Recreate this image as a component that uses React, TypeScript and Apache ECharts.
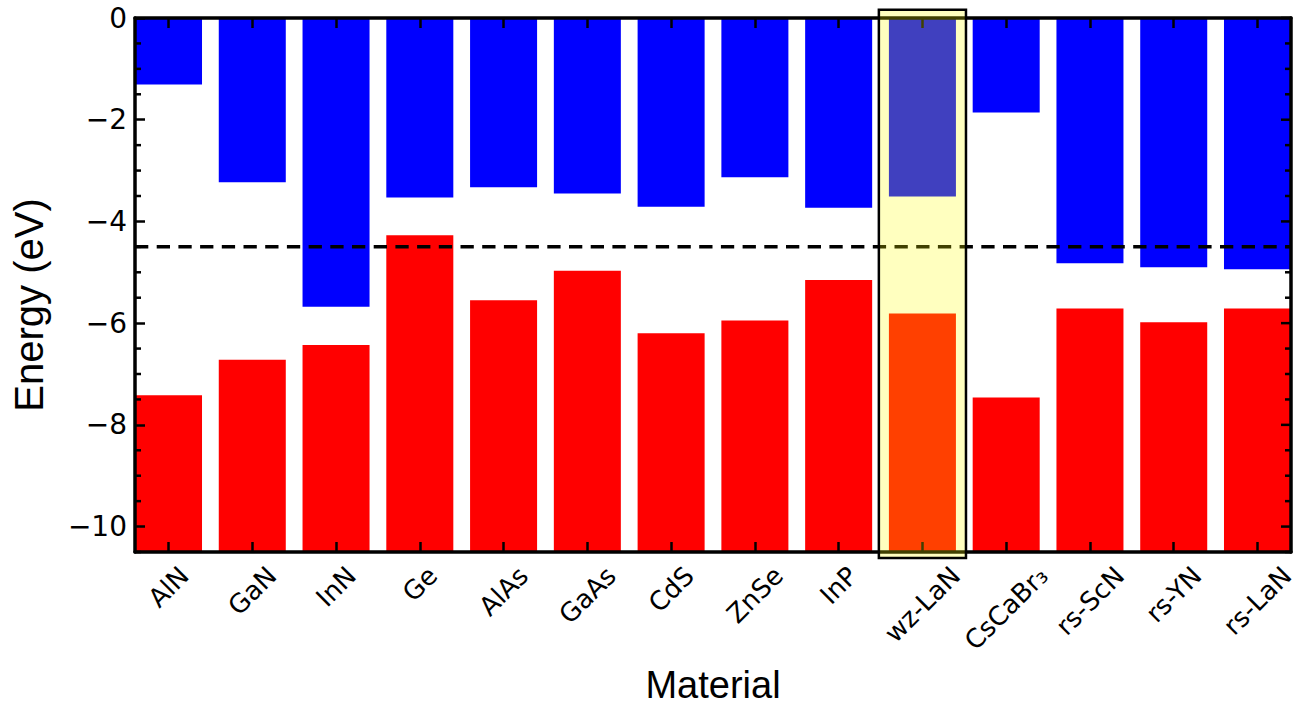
import React, { useEffect, useRef } from "react";
import * as echarts from "echarts";

// ---- data ----
const materials = ["AlN", "GaN", "InN", "Ge", "AlAs", "GaAs", "CdS", "ZnSe", "InP", "wz-LaN", "CsCaBr₃", "rs-ScN", "rs-YN", "rs-LaN"];
const conductionBandMin = [-1.31, -3.23, -5.68, -3.53, -3.33, -3.45, -3.71, -3.13, -3.73, -3.51, -1.86, -4.82, -4.90, -4.94];
const valenceBandMax = [-7.42, -6.72, -6.43, -4.27, -5.55, -4.97, -6.20, -5.95, -5.15, -5.81, -7.46, -5.71, -5.98, -5.71];
const yMajorTicks = [0, -2, -4, -6, -8, -10];
const yMinorTicks = [-0.5, -1, -1.5, -2.5, -3, -3.5, -4.5, -5, -5.5, -6.5, -7, -7.5, -8.5, -9, -9.5, -10.5];
const referenceLevel = -4.5;
const xExtent = [-0.4, 13.4];
const yExtent = [-10.5, 0];
const highlightX = [8.48, 9.52];
const highlightY = [-10.62, 0.16];

const BAR_WIDTH = 0.8;
const TICK_FS = 26;
const YTICK_FS = 28;
const MAJOR_LEN = 10;
const MINOR_LEN = 6;
const TICK_FONT = '"DejaVu Sans", sans-serif';
const NAME_FONT = '"Liberation Sans", Arial, sans-serif';

const fmtY = (v: number) => (v < 0 ? "\u2212" + Math.abs(v) : String(v));

function makeBarRender(color: string) {
  return (params: any, api: any) => {
    const x = api.value(0);
    const a = api.value(1);
    const b = api.value(2);
    const p1 = api.coord([x - BAR_WIDTH / 2, Math.max(a, b)]);
    const p2 = api.coord([x + BAR_WIDTH / 2, Math.min(a, b)]);
    return {
      type: "rect",
      shape: { x: p1[0], y: p1[1], width: p2[0] - p1[0], height: p2[1] - p1[1] },
      style: { fill: color },
    };
  };
}

export default function App() {
  const ref = useRef<HTMLDivElement>(null);
  useEffect(() => {
    if (!ref.current) return;
    const chart = echarts.init(ref.current, undefined, { renderer: "svg" });

    const catPositions = materials.map((_, i) => i);

    // rich styles so rotated labels' bounding boxes are centred under each tick
    const canvas = document.createElement("canvas");
    const ctx = canvas.getContext("2d")!;
    ctx.font = `${TICK_FS}px "DejaVu Sans"`;
    const rich: Record<string, any> = {};
    materials.forEach((m, i) => {
      const L = ctx.measureText(m).width;
      const p = (L + TICK_FS) / 2;
      rich["m" + i] = { fontSize: TICK_FS, fontFamily: TICK_FONT, color: "#000", padding: [p, p, 0, 0] };
    });

    const axisLineStyle = { color: "#000", width: 3.5 };
    const tickStyle = { color: "#000", width: 2.5 };

    const blueData = materials.map((_, i) => [i, 0, conductionBandMin[i]]);
    const redData = materials.map((_, i) => [i, valenceBandMax[i], yExtent[0]]);
    // y-tick marks drawn for the mirrored right spine and the minor ticks: [value, length, bothSides]
    const tickData = [
      ...yMinorTicks.map((v) => [v, MINOR_LEN, 1]),
      ...yMajorTicks.map((v) => [v, MAJOR_LEN, 0]),
    ];

    chart.setOption({
      animation: false,
      grid: { left: 135, right: 11, top: 18, bottom: 153, containLabel: false, outerBoundsMode: "none" },
      xAxis: [
        {
          type: "value",
          position: "bottom",
          min: xExtent[0],
          max: xExtent[1],
          z: 3,
          axisLine: { show: true, onZero: false, lineStyle: axisLineStyle },
          axisTick: { show: true, inside: true, length: MAJOR_LEN, lineStyle: tickStyle, customValues: catPositions },
          axisLabel: {
            show: true,
            customValues: catPositions,
            rotate: 45,
            align: "center",
            verticalAlign: "middle",
            margin: 10,
            fontSize: TICK_FS,
            fontFamily: TICK_FONT,
            color: "#000",
            formatter: (v: number) => {
              const i = Math.round(v);
              return `{m${i}|${materials[i]}}`;
            },
            rich,
          },
          splitLine: { show: false },
          name: "Material",
          nameLocation: "middle",
          nameGap: 114,
          nameMoveOverlap: false,
          nameTextStyle: { fontSize: 38, fontFamily: NAME_FONT, color: "#000" },
        },
        {
          type: "value",
          position: "top",
          min: xExtent[0],
          max: xExtent[1],
          z: 3,
          axisLine: { show: true, onZero: false, lineStyle: axisLineStyle },
          axisTick: { show: true, inside: true, length: MAJOR_LEN, lineStyle: tickStyle, customValues: catPositions },
          axisLabel: { show: false },
          splitLine: { show: false },
        },
      ],
      yAxis: [
        {
          type: "value",
          position: "left",
          min: yExtent[0],
          max: yExtent[1],
          z: 3,
          axisLine: { show: true, onZero: false, lineStyle: axisLineStyle },
          axisTick: { show: true, inside: true, length: MAJOR_LEN, lineStyle: tickStyle, customValues: yMajorTicks },
          axisLabel: {
            show: true,
            customValues: yMajorTicks,
            margin: 8,
            fontSize: YTICK_FS,
            fontFamily: TICK_FONT,
            color: "#000",
            formatter: fmtY,
          },
          splitLine: { show: false },
          name: "Energy (eV)",
          nameLocation: "middle",
          nameGap: 86,
          nameMoveOverlap: false,
          nameTextStyle: { fontSize: 40, fontFamily: NAME_FONT, color: "#000", padding: [0, 40, 0, 0] },
        },
        {
          type: "value",
          position: "right",
          min: yExtent[0],
          max: yExtent[1],
          z: 3,
          axisLine: { show: true, onZero: false, lineStyle: axisLineStyle },
          axisTick: { show: false },
          axisLabel: { show: false },
          splitLine: { show: false },
        },
      ],
      series: [
        {
          type: "custom",
          name: "CBM",
          z: 1,
          clip: true,
          silent: true,
          encode: { x: 0, y: [1, 2] },
          renderItem: makeBarRender("#0000ff"),
          data: blueData,
        },
        {
          type: "custom",
          name: "VBM",
          z: 1,
          clip: true,
          silent: true,
          encode: { x: 0, y: [1, 2] },
          renderItem: makeBarRender("#ff0000"),
          data: redData,
        },
        {
          type: "custom",
          name: "yTicks",
          z: 6,
          clip: false,
          silent: true,
          encode: { x: 1, y: 0 },
          renderItem: (params: any, api: any) => {
            const v = api.value(0);
            const len = api.value(1);
            const both = api.value(2);
            const pl = api.coord([xExtent[0], v]);
            const pr = api.coord([xExtent[1], v]);
            const children: any[] = [
              { type: "line", shape: { x1: pr[0], y1: pr[1], x2: pr[0] - len, y2: pr[1] }, style: { stroke: "#000", lineWidth: 2.5 } },
            ];
            if (both) {
              children.push({ type: "line", shape: { x1: pl[0], y1: pl[1], x2: pl[0] + len, y2: pl[1] }, style: { stroke: "#000", lineWidth: 2.5 } });
            }
            return { type: "group", children };
          },
          data: tickData,
        },
        {
          type: "line",
          z: 4,
          silent: true,
          symbol: "none",
          lineStyle: { color: "#000", width: 3.5, type: [13.3, 8.4], cap: "butt" },
          data: [
            [xExtent[0], referenceLevel],
            [xExtent[1], referenceLevel],
          ],
        },
        {
          type: "custom",
          z: 5,
          clip: false,
          silent: true,
          encode: { x: [0, 2], y: [1, 3] },
          renderItem: (params: any, api: any) => {
            const p1 = api.coord([api.value(0), api.value(1)]);
            const p2 = api.coord([api.value(2), api.value(3)]);
            return {
              type: "rect",
              shape: { x: p1[0], y: p1[1], width: p2[0] - p1[0], height: p2[1] - p1[1] },
              style: { fill: "rgba(255,255,0,0.25)", stroke: "#000", lineWidth: 2.5 },
            };
          },
          data: [[highlightX[0], highlightY[1], highlightX[1], highlightY[0]]],
        },
      ],
    });

    return () => chart.dispose();
  }, []);

  return (
    <div
      ref={ref}
      style={{ position: "fixed", left: 0, top: 0, width: 1302, height: 705, background: "#fff" }}
    />
  );
}
